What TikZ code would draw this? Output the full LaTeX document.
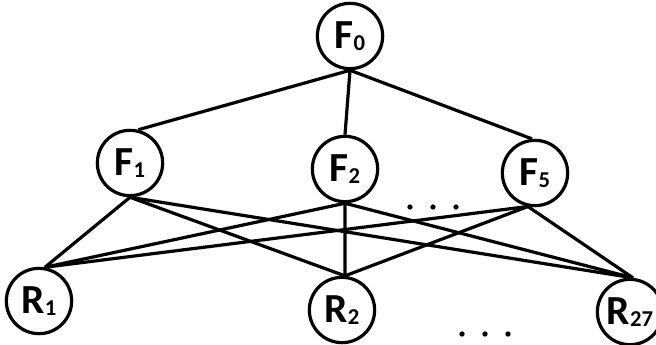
\documentclass[tikz,border=0pt]{standalone}
\usepackage{fontspec}
\setmainfont{Carlito}
% vertex label: capital letter with a small index at the baseline
\newcommand\vlabel[2]{#1{\fontsize{17}{17}\selectfont\raisebox{-1.5pt}{#2}}}
\begin{document}
\begin{tikzpicture}[x=0.75pt,y=-0.75pt,
  vert/.style={circle,draw,line width=2.4pt,minimum size=49pt,inner sep=0pt,
               fill=white,font=\bfseries\fontsize{31}{31}\selectfont},
  link/.style={line width=2.4pt},
  dotmark/.style={fill=black}]
\useasboundingbox (0,0) rectangle (656,345);

% root
\node[vert] (F0) at (350,36) {\vlabel{F}{0}};
% middle level
\node[vert] (F1) at (130,163) {\vlabel{F}{1}};
\node[vert] (F2) at (345,169) {\vlabel{F}{2}};
\node[vert] (F5) at (535,173) {\vlabel{F}{5}};
% bottom level
\node[vert] (R1) at (39,301) {\vlabel{R}{1}};
\node[vert] (R2) at (342,310) {\vlabel{R}{2}};
\node[vert] (R27) at (630,312) {\vlabel{R}{27}};

% ellipsis markers
\foreach \x in {410,433,456} \fill[dotmark] (\x,207) circle (2pt);
\foreach \x in {462,485,508} \fill[dotmark] (\x,334) circle (2pt);

% edges from the root
\draw[link] (F0.south) -- (F1.76);
\draw[link] (F0.south) -- (F2.north);
\draw[link] (F0.south) -- (F5.95);
% edges from each middle vertex to every bottom vertex
\foreach \f/\a in {F1/south,F2/south,F5/258}{
  \draw[link] (\f.\a) -- (R1.80);
  \draw[link] (\f.\a) -- (R2.85);
  \draw[link] (\f.\a) -- (R27.85);
}
\end{tikzpicture}
\end{document}
